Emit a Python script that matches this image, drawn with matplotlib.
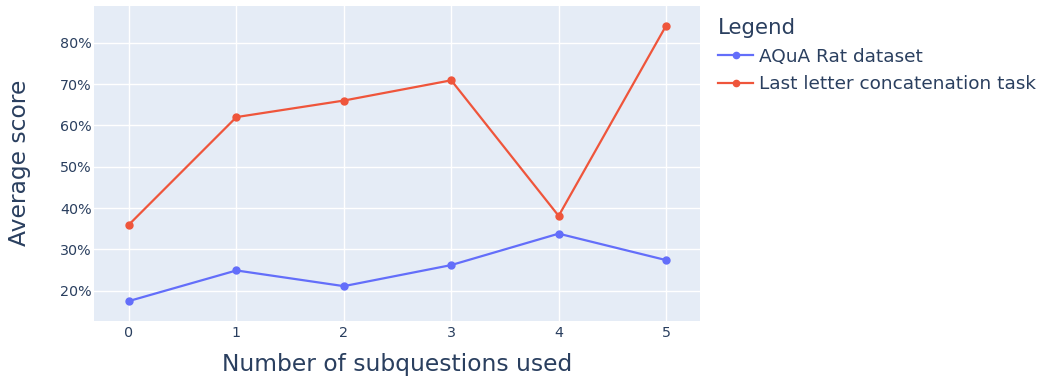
import matplotlib
matplotlib.use("Agg")
import matplotlib.pyplot as plt
from matplotlib.ticker import FuncFormatter

x_values = [0, 1, 2, 3, 4, 5]
aqua_scores = [17.5, 24.9, 21.1, 26.2, 33.8, 27.4]
letter_scores = [36.0, 62.0, 66.0, 70.9, 38.1, 84.1]
series_names = ["AQuA Rat dataset", "Last letter concatenation task"]
y_ticks = [20, 30, 40, 50, 60, 70, 80]

TEXT = "#2a3f5f"
plt.rcParams['font.family'] = ['DejaVu Sans']

fig = plt.figure(figsize=(10.42, 3.81), dpi=100)
ax = fig.add_axes([94.3 / 1042, 1 - 320.7 / 381, (700 - 94.3) / 1042, (320.7 - 5.7) / 381])
ax.set_facecolor("#E5ECF6")
for s in ax.spines.values():
    s.set_visible(False)

ax.plot(x_values, aqua_scores, color="#636EFA", lw=1.6, marker="o", ms=5, label=series_names[0], zorder=3)
ax.plot(x_values, letter_scores, color="#EF553B", lw=1.6, marker="o", ms=5, label=series_names[1], zorder=3)

ax.set_xlim(-0.323, 5.316)
ax.set_ylim(12.74, 88.95)
ax.set_xticks(x_values)
ax.set_yticks(y_ticks)
ax.yaxis.set_major_formatter(FuncFormatter(lambda v, p: f"{v:.0f}%"))
ax.grid(True, color="white", lw=1.0)
ax.set_axisbelow(True)
ax.tick_params(length=0, labelsize=10.3, colors=TEXT)
ax.tick_params(axis='y', pad=2)
ax.tick_params(axis='x', pad=4)

ax.set_xlabel("Number of subquestions used", fontsize=16.8, color=TEXT, va="center")
ax.set_ylabel("Average score", fontsize=16.8, color=TEXT, va="center")
ax.xaxis.set_label_coords(0.5, (320.7 - 364) / 315)
ax.yaxis.set_label_coords((20 - 94.3) / 605.7, 0.5)

leg = ax.legend(loc="upper left", bbox_to_anchor=(718 / 1042, 1 - 18 / 381), bbox_transform=fig.transFigure,
                frameon=False, fontsize=13.3, title="Legend", title_fontsize=15.4,
                alignment="left", handlelength=1.9, handletextpad=0.32, labelspacing=0.52,
                borderaxespad=0, borderpad=0)
leg.get_title().set_color(TEXT)
for t in leg.get_texts():
    t.set_color(TEXT)
for h in leg.legend_handles:
    h.set_markersize(4.5)

fig.savefig("out.png", dpi=100)
